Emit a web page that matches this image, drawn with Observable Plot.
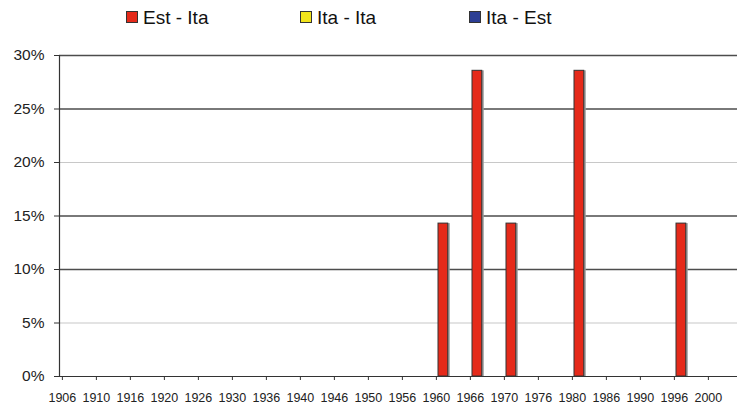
<!DOCTYPE html>
<html><head><meta charset="utf-8">
<script src="https://cdn.jsdelivr.net/npm/d3@7"></script>
<script src="https://cdn.jsdelivr.net/npm/@observablehq/plot@0.6"></script>
<style>
body{margin:0;background:#fff;font-family:"Liberation Sans",Arial,sans-serif;}
#legend{position:relative;height:40px;width:737px;}
.item{position:absolute;top:0;}
.sw{position:absolute;top:11px;left:0;width:12px;height:12px;box-sizing:border-box;border:1px solid #333;}
.lb{position:absolute;top:8.5px;left:17px;font-size:19px;line-height:18px;white-space:nowrap;color:#111;}
</style></head><body>
<div id="legend"></div><div id="chart"></div>
<script>
const years = ["1906","1910","1916","1920","1926","1930","1936","1940","1946","1950","1956","1960","1966","1970","1976","1980","1986","1990","1996","2000"];
const series = ["Est - Ita","Ita - Ita","Ita - Est"];
const colors = ["#e52a1a","#f2e41c","#2c3e94"];
const estIta = [0,0,0,0,0,0,0,0,0,0,0,14.29,28.57,14.29,0,28.57,0,0,14.29,0];
const itaIta = [0,0,0,0,0,0,0,0,0,0,0,0,0,0,0,0,0,0,0,0];
const itaEst = [0,0,0,0,0,0,0,0,0,0,0,0,0,0,0,0,0,0,0,0];
const yTicks = [0,5,10,15,20,25,30];
const lightGrid = [5,20];

const values = [estIta, itaIta, itaEst];
const rows = [];
series.forEach((s, j) => years.forEach((year, i) => rows.push({year, series: s, j, value: values[j][i]})));

// legend
const legend = document.getElementById("legend");
const legendLeft = [126, 300, 469];
series.forEach((s, j) => {
  const it = document.createElement("div");
  it.className = "item";
  it.style.left = legendLeft[j] + "px";
  const sw = document.createElement("div");
  sw.className = "sw";
  sw.style.background = colors[j];
  const lb = document.createElement("div");
  lb.className = "lb";
  lb.textContent = s;
  it.appendChild(sw); it.appendChild(lb);
  legend.appendChild(it);
});

const W = 737, H = 365, mL = 59, mT = 15, mB = 29;
const x0 = 59, x1 = 744;
const bw = (x1 - x0) / years.length;
const barW = 10, gap0 = 2;

const barMarks = [];
series.forEach((s, j) => {
  const d = rows.filter(r => r.j === j && r.value > 0);
  const inset = {insetLeft: gap0 + barW * j, insetRight: bw - (gap0 + barW * (j + 1))};
  barMarks.push(Plot.barY(d, {x: "year", y: "value", fill: "#9a9a9a", dx: 2, ...inset}));
  barMarks.push(Plot.barY(d, {x: "year", y: "value", fill: colors[j], stroke: "#333", strokeWidth: 1, ...inset}));
});

const chart = Plot.plot({
  width: W, height: H,
  marginLeft: mL, marginRight: 0, marginTop: mT, marginBottom: mB,
  style: {fontFamily: '"Liberation Sans", Arial, sans-serif', fontSize: "12px", color: "#222", background: "#fff", overflow: "visible"},
  x: {type: "band", domain: years, range: [x0, x1], padding: 0, axis: null, label: null},
  y: {domain: [0, 30], axis: null, label: null},
  marks: [
    Plot.ruleY(yTicks.filter(d => d > 0 && lightGrid.includes(d)), {stroke: "#c8c8c8", strokeWidth: 1.2}),
    Plot.ruleY(yTicks.filter(d => d > 0 && !lightGrid.includes(d)), {stroke: "#4d4d4d", strokeWidth: 1.3}),
    ...barMarks,
    Plot.ruleY([0], {stroke: "#333", strokeWidth: 1.2}),
    Plot.frame({anchor: "left", stroke: "#333", strokeWidth: 1.2}),
    Plot.axisY({ticks: yTicks, tickFormat: d => d + "%", tickSize: 5, tickPadding: 10, fontSize: 15.5, stroke: "#333", label: null}),
    Plot.axisX({tickSize: 4, tickPadding: 13, dx: -bw / 2, fontSize: 12.5, stroke: "#333", label: null})
  ]
});
document.getElementById("chart").appendChild(chart);
</script>
</body></html>
